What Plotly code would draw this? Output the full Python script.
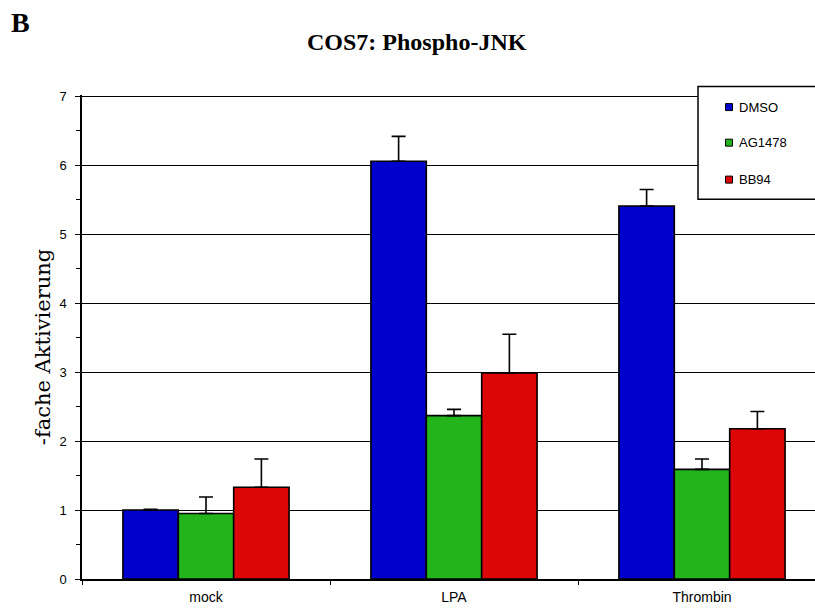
import plotly.graph_objects as go

# Data
categories = ["mock", "LPA", "Thrombin"]
series_names = ["DMSO", "AG1478", "BB94"]
dmso = [1.00, 6.06, 5.41]
ag1478 = [0.95, 2.37, 1.59]
bb94 = [1.33, 2.99, 2.18]
dmso_err = [0.01, 0.36, 0.24]
ag1478_err = [0.24, 0.09, 0.15]
bb94_err = [0.41, 0.56, 0.25]
y_ticks = [0, 1, 2, 3, 4, 5, 6, 7]

colors = ["#0000CC", "#22B41A", "#DC0606"]

W, H = 815, 609
Y_TOP = 7.02
M_L, M_R, M_B = 82, 0, 30
M_T = 96 - (Y_TOP - 7) * (483 / 7)
PW, PH = W - M_L - M_R, H - M_T - M_B


def px_x(x):
    return (x - M_L) / PW


def px_y(y):
    return (H - M_B - y) / PH


fig = go.Figure()
for name, vals, errs, col in zip(series_names, [dmso, ag1478, bb94],
                                 [dmso_err, ag1478_err, bb94_err], colors):
    fig.add_trace(go.Bar(
        x=categories, y=vals, name=name,
        marker=dict(color=col, line=dict(color="black", width=1.6)),
        error_y=dict(type="data", symmetric=False, array=errs,
                     arrayminus=[0] * len(errs), color="black",
                     thickness=1.6, width=7),
        showlegend=False,
    ))

# Category spacing: the plot is cut slightly on the right side
cat_px = 248.0
x_hi = -0.5 + PW / cat_px

fig.update_layout(
    width=W, height=H,
    margin=dict(l=M_L, r=M_R, t=M_T, b=M_B),
    paper_bgcolor="white", plot_bgcolor="white",
    barmode="group", bargap=0.33, bargroupgap=0,
    font=dict(family="Liberation Sans, Arial", color="black"),
    xaxis=dict(
        type="category", range=[-0.5, x_hi],
        showline=True, linecolor="black", linewidth=1.5,
        ticks="outside", tickson="boundaries", ticklen=4,
        tickcolor="black", tickwidth=1.2,
        tickfont=dict(size=14, family="Liberation Sans, Arial"),
        ticklabelstandoff=4,
        showgrid=False,
    ),
    yaxis=dict(
        range=[0, Y_TOP], tickvals=y_ticks,
        showline=True, linecolor="black", linewidth=1.5,
        ticks="outside", ticklen=5, tickcolor="black", tickwidth=1.2,
        showgrid=True, gridcolor="black", gridwidth=1.3,
        zeroline=False,
        tickfont=dict(size=13, family="Liberation Sans, Arial"),
        ticklabelstandoff=6,
        minor=dict(dtick=0.5, ticks="outside", ticklen=4,
                   tickcolor="black", tickwidth=1.2, showgrid=False),
    ),
)

shapes = []
annotations = []

# Legend box
shapes.append(dict(type="rect", xref="paper", yref="paper",
                   x0=px_x(698), x1=px_x(817), y0=px_y(199), y1=px_y(86),
                   fillcolor="white", line=dict(color="black", width=1.5),
                   layer="above"))
legend_y = [106.7, 142.3, 179.3]
for name, col, ly in zip(series_names, colors, legend_y):
    shapes.append(dict(type="rect", xref="paper", yref="paper",
                       x0=px_x(725.5), x1=px_x(732.5),
                       y0=px_y(ly + 3.5), y1=px_y(ly - 3.5),
                       fillcolor=col, line=dict(color="black", width=1),
                       layer="above"))
    annotations.append(dict(text=name, xref="paper", yref="paper",
                            x=px_x(737), y=px_y(ly), xanchor="left",
                            yanchor="middle", showarrow=False,
                            font=dict(size=13, family="Liberation Sans, Arial")))

# Titles
annotations.append(dict(text="<b>COS7: Phospho-JNK</b>", xref="paper", yref="paper",
                        x=px_x(417), y=px_y(42), xanchor="center", yanchor="middle",
                        showarrow=False,
                        font=dict(size=24, family="Liberation Serif, Times New Roman")))
annotations.append(dict(text="<b>B</b>", xref="paper", yref="paper",
                        x=px_x(20), y=px_y(22), xanchor="center", yanchor="middle",
                        showarrow=False,
                        font=dict(size=28, family="Liberation Serif, Times New Roman")))
annotations.append(dict(text="-fache Aktivierung", xref="paper", yref="paper",
                        x=px_x(43), y=px_y(347), xanchor="center", yanchor="middle",
                        textangle=-90, showarrow=False,
                        font=dict(size=21, family="DejaVu Serif")))

fig.update_layout(shapes=shapes, annotations=annotations)
fig.write_html("out.html")
